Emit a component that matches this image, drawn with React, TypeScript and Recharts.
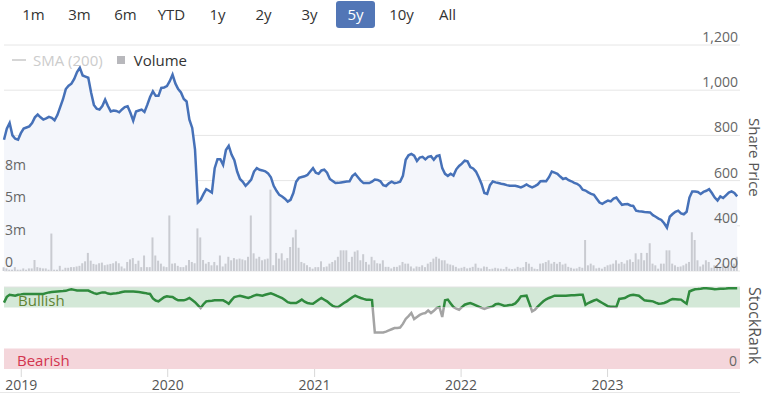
import React from "react";
import {
  ComposedChart,
  LineChart,
  Area,
  Bar,
  Line,
  XAxis,
  YAxis,
  CartesianGrid,
  ReferenceArea,
  ReferenceLine,
} from "recharts";

const FONT = "'Open Sans', 'Noto Sans', sans-serif";
const WEEK = 7 * 24 * 3600 * 1000;
const START = Date.UTC(2018, 10, 19); // first weekly point

const rangeButtons = ["1m", "3m", "6m", "YTD", "1y", "2y", "3y", "5y", "10y", "All"];
const activeRange = "5y";
const yearTicks = [2019, 2020, 2021, 2022, 2023];
const priceTicks = [200, 400, 600, 800, 1000, 1200];
const volumeTicks = [0, 2.5, 5, 7.5]; // millions
const volumeTickLabels = ["0", "3m", "5m", "8m"];

// weekly close, pence
const sharePrice = [
  781, 830, 855, 800, 785, 781, 810, 830, 835, 840,
  855, 880, 892, 880, 870, 875, 882, 878, 867, 890,
  925, 960, 1005, 1020, 1029, 1050, 1080, 1099, 1065, 1060,
  1055, 990, 935, 918, 914, 930, 958, 930, 906, 910,
  908, 902, 915, 925, 929, 900, 865, 906, 910, 914,
  904, 935, 970, 995, 975, 975, 1010, 1012, 1018, 1040,
  1069, 1030, 1005, 990, 961, 950, 870, 833, 737, 503,
  515, 540, 562, 555, 547, 655, 695, 695, 670, 735,
  754, 715, 690, 640, 607, 595, 577, 590, 604, 640,
  655, 648, 645, 641, 632, 615, 577, 555, 537, 530,
  520, 507, 515, 545, 595, 612, 616, 619, 625, 640,
  655, 635, 630, 645, 648, 635, 607, 598, 589, 590,
  592, 594, 596, 597, 620, 630, 615, 600, 589, 589,
  589, 595, 605, 603, 597, 580, 576, 588, 595, 589,
  591, 595, 621, 692, 712, 718, 710, 687, 702, 705,
  694, 705, 708, 692, 708, 712, 655, 630, 621, 630,
  622, 650, 665, 675, 688, 685, 660, 654, 640, 615,
  585, 545, 541, 580, 596, 592, 589, 586, 584, 580,
  577, 577, 577, 574, 570, 576, 583, 575, 570, 576,
  583, 597, 598, 597, 615, 640, 635, 630, 618, 607,
  611, 602, 597, 590, 586, 577, 560, 556, 548, 541,
  537, 520, 503, 497, 505, 512, 508, 520, 525, 508,
  493, 495, 496, 490, 488, 467, 464, 463, 461, 460,
  459, 447, 440, 432, 426, 411, 392, 440, 452, 462,
  467, 455, 451, 462, 525, 552, 552, 550, 541, 550,
  555, 562, 545, 525, 512, 530, 523, 535, 547, 552, 545, 530,
];

// weekly volume, millions of shares
const volumeM = [
  0.3, 0.2, 0.1, 0.1, 0.3, 0.1, 0.1, 0.2, 0.1, 0.2,
  0.2, 0.85, 0.3, 0.25, 0.2, 0.2, 0.1, 2.9, 0.1, 0.1,
  0.4, 0.1, 0.25, 0.25, 0.3, 0.3, 0.35, 0.4, 0.6, 0.75,
  1.4, 0.8, 0.55, 0.5, 0.6, 0.65, 0.45, 0.5, 0.55, 0.6,
  0.75, 0.6, 0.35, 0.2, 0.7, 0.9, 1.0, 0.55, 0.8, 0.3,
  1.2, 0.3, 0.3, 2.6, 1.2, 0.8, 0.57, 0.35, 0.3, 4.3,
  0.57, 0.6, 0.4, 0.3, 0.3, 0.44, 0.85, 0.7, 0.6, 3.3,
  2.6, 0.85, 0.57, 0.7, 0.44, 0.7, 0.44, 1.2, 0.35, 0.57,
  1.1, 0.83, 1.0, 0.9, 0.96, 0.9, 0.83, 1.1, 4.3, 1.37,
  0.96, 1.1, 0.83, 0.9, 0.96, 6.3, 0.45, 1.4, 0.96, 1.37,
  0.83, 1.0, 1.86, 2.6, 3.2, 1.8, 0.7, 0.6, 0.45, 0.3,
  0.18, 0.3, 0.3, 0.75, 0.3, 0.35, 0.57, 0.7, 0.83, 1.1,
  1.6, 1.6, 1.6, 0.7, 1.1, 1.5, 1.6, 0.83, 1.3, 0.7,
  0.5, 1.1, 0.83, 0.6, 0.57, 0.83, 0.32, 0.32, 0.2, 0.32,
  0.32, 0.44, 0.7, 0.57, 0.57, 0.35, 0.2, 0.35, 0.32, 0.44,
  0.3, 0.57, 0.7, 0.96, 1.1, 0.96, 0.83, 0.83, 0.57, 0.5,
  0.44, 0.32, 0.2, 0.25, 0.32, 0.2, 0.25, 0.32, 0.57, 0.25,
  0.2, 0.35, 0.32, 0.15, 0.18, 0.25, 0.2, 0.18, 0.15, 0.32,
  0.18, 0.15, 0.18, 0.32, 0.25, 0.3, 0.7, 0.57, 0.32, 0.18,
  0.15, 0.57, 0.6, 0.7, 0.83, 0.57, 0.7, 0.57, 0.7, 0.5,
  0.57, 0.32, 0.25, 0.18, 0.2, 0.32, 0.25, 2.4, 0.44, 0.57,
  0.44, 0.2, 0.25, 0.18, 0.32, 0.44, 0.5, 0.57, 0.83, 0.57,
  0.7, 0.57, 0.83, 0.9, 0.7, 1.37, 0.9, 1.4, 0.83, 1.4,
  2.15, 0.57, 0.44, 0.18, 0.57, 0.57, 1.6, 1.6, 0.57, 0.44,
  0.32, 0.35, 0.44, 0.57, 0.7, 3.0, 2.4, 0.83, 0.35, 0.5,
  0.83, 0.7, 0.25, 0.44, 0.44, 0.32, 0.57, 0.32, 0.44, 0.35, 0.57, 1.1,
];

// weekly StockRank (0-100)
const stockRank = [
  81, 88, 90.6, 90, 89.4, 90.6, 91, 91.5, 91.5, 91.5,
  91.5, 91.5, 91.5, 91.5, 91.5, 92.5, 93.4, 93.8, 94.2, 94.5,
  94.8, 95, 95.3, 96.5, 97.3, 96.5, 95.7, 95.7, 95.7, 95.7,
  95.7, 94, 92.5, 91.5, 92.5, 93.4, 93.4, 92, 91.5, 92,
  92.3, 93, 93.8, 94.5, 94.5, 94.5, 94.5, 94.2, 93.8, 93.4,
  92.8, 92, 91.5, 86, 83.5, 82.5, 85, 87.5, 88.6, 88.2,
  87.8, 85.5, 83.7, 83.7, 83.7, 85, 86.6, 84, 81.5, 78,
  74.4, 79, 82.5, 83, 83.3, 83.7, 83.7, 83.7, 83.7, 82,
  79.6, 84, 87.8, 88.6, 89.4, 88.5, 87.5, 86.6, 88, 89.5,
  90.6, 90, 89.4, 90.5, 91.5, 92.3, 91, 89.4, 88, 86.6,
  84, 81.5, 80.5, 80.5, 80.5, 82.5, 84.6, 82, 80.5, 80,
  79.6, 82, 84.5, 86.6, 84.5, 82.5, 79.5, 77, 75.6, 75.6,
  78, 80.5, 82.5, 85, 87.5, 89.4, 88, 86.6, 85.5, 84.6,
  84.6, 84, 44.6, 44.6, 44.6, 44.6, 45.5, 47, 48.5, 50,
  50, 50.5, 55, 61, 64.5, 68.3, 61, 63.5, 66, 67.5,
  68.3, 71.5, 68.3, 71, 74.4, 75.6, 63.4, 83.7, 84.6, 80,
  75.6, 73.5, 72.3, 75.5, 78.4, 79.5, 80.5, 79, 77.5, 76,
  74.5, 73.2, 74.5, 75.5, 76.4, 79, 79.6, 78.5, 77.2, 77.5,
  78, 78.4, 80, 83.7, 88.6, 89, 89.4, 80, 70.3, 72.3,
  76, 79.5, 82.5, 85, 86.6, 88, 89.4, 89.4, 89.4, 89.4,
  89.4, 89.6, 89.8, 90, 90.2, 90.4, 90.6, 78.4, 80.5, 82,
  83.5, 84.6, 82.5, 80.5, 78.5, 76.4, 76, 75.8, 75.6, 85.4,
  86, 86.6, 88.5, 90, 90.6, 90, 89.4, 86.5, 83.7, 83.3,
  82.9, 82.5, 81, 79.6, 80, 80.5, 82, 84, 85.4, 85.2,
  84.9, 84.6, 82, 79.6, 94.5, 96, 97.3, 97.6, 98, 98.5,
  98.5, 98.2, 97.8, 97.3, 97.5, 97.8, 98, 98.2, 98.5, 98.5, 98.5, 98.5,
];

const BULLISH_MIN = 76;

const data = sharePrice.map((price, i) => ({
  t: START + i * WEEK,
  price,
  volume: volumeM[i],
  rank: stockRank[i],
}));
const END = START + sharePrice.length * WEEK;
const yearTickTimes = yearTicks.map((y) => Date.UTC(y, 0, 1));

const rankMax = Math.max(...stockRank);
const rankMin = Math.min(...stockRank);
const greenStop = (rankMax - BULLISH_MIN) / (rankMax - rankMin);

const PriceTick = ({ x, y, payload }: any) => (
  <text x={x - 2} y={y - 3} textAnchor="end" fill="#666" fontSize={14} fontFamily={FONT}>
    {Number(payload.value).toLocaleString("en-US")}
  </text>
);

const VolumeTick = ({ x, y, payload }: any) => (
  <text x={x + 1} y={y - 4} textAnchor="start" fill="#666" fontSize={14} fontFamily={FONT}>
    {volumeTickLabels[volumeTicks.indexOf(payload.value)]}
  </text>
);

const RankTick = ({ x, y, payload }: any) => (
  <text x={x - 3} y={y - 3} textAnchor="end" fill="#666" fontSize={14} fontFamily={FONT}>
    {payload.value}
  </text>
);

export default function App() {
  return (
    <div
      style={{
        position: "relative",
        width: 767,
        height: 394,
        background: "#fff",
        overflow: "hidden",
        fontFamily: FONT,
      }}
    >
      <style>{`body{margin:0}`}</style>

      {/* range selector */}
      <div style={{ position: "absolute", left: 14, top: 1, display: "flex", gap: 7 }}>
        {rangeButtons.map((b) => (
          <div
            key={b}
            style={{
              width: 39,
              height: 27,
              lineHeight: "27px",
              textAlign: "center",
              fontSize: 15,
              borderRadius: 3,
              color: b === activeRange ? "#fff" : "#333",
              background: b === activeRange ? "#5276b6" : "transparent",
            }}
          >
            {b}
          </div>
        ))}
      </div>

      {/* price + volume */}
      <div style={{ position: "absolute", left: 0, top: 0 }}>
        <ComposedChart
          width={767}
          height={272}
          data={data}
          margin={{ top: 45, right: 27, bottom: 1, left: 4 }}
        >
          <CartesianGrid yAxisId="price" vertical={false} stroke="#e6e6e6" />
          <XAxis dataKey="t" type="number" domain={[START, END]} hide />
          <YAxis
            yAxisId="price"
            orientation="right"
            mirror
            width={40}
            domain={[200, 1200]}
            ticks={priceTicks}
            interval={0}
            allowDataOverflow
            axisLine={false}
            tickLine={false}
            tickSize={0}
            tickMargin={0}
            tick={PriceTick}
          />
          <YAxis
            yAxisId="vol"
            orientation="left"
            mirror
            width={30}
            domain={[0, 17.5]}
            ticks={volumeTicks}
            interval={0}
            axisLine={false}
            tickLine={false}
            tickSize={0}
            tickMargin={0}
            tick={VolumeTick}
          />
          <Area
            yAxisId="price"
            dataKey="price"
            type="linear"
            stroke="#4671b8"
            strokeWidth={2.5}
            fill="#f4f6fb"
            fillOpacity={1}
            dot={false}
            isAnimationActive={false}
          />
          <Bar
            yAxisId="vol"
            dataKey="volume"
            fill="#c9cbd1"
            barSize={2}
            isAnimationActive={false}
          />
        </ComposedChart>
      </div>

      {/* legend */}
      <div
        style={{
          position: "absolute",
          left: 12,
          top: 50,
          display: "flex",
          alignItems: "center",
          fontSize: 15,
        }}
      >
        <span style={{ width: 14, height: 2, background: "#d6d6d6", marginRight: 7 }} />
        <span style={{ color: "#cccccc" }}>SMA (200)</span>
        <span style={{ width: 8, height: 8, background: "#b8b8bc", marginLeft: 14, marginRight: 9 }} />
        <span style={{ color: "#333" }}>Volume</span>
      </div>

      <div
        style={{
          position: "absolute",
          left: 746,
          top: 118,
          writingMode: "vertical-rl",
          fontSize: 15,
          color: "#555",
          lineHeight: "18px",
        }}
      >
        Share Price
      </div>

      {/* StockRank panel */}
      <div style={{ position: "absolute", left: 0, top: 272 }}>
        <LineChart
          width={767}
          height={122}
          data={data}
          margin={{ top: 15, right: 27, bottom: 0, left: 4 }}
        >
          <defs>
            <linearGradient id="rankGrad" x1="0" y1="0" x2="0" y2="1">
              <stop offset={greenStop} stopColor="#2f8a3d" />
              <stop offset={greenStop} stopColor="#a4a4a4" />
            </linearGradient>
          </defs>
          <XAxis
            dataKey="t"
            type="number"
            domain={[START, END]}
            ticks={yearTickTimes}
            interval={0}
            tickFormatter={(v: number) => String(new Date(v).getUTCFullYear())}
            axisLine={false}
            tickLine={{ stroke: "#d8d8d8" }}
            tickSize={8}
            tickMargin={3}
            height={25}
            tick={{ fill: "#555", fontSize: 14, fontFamily: FONT }}
          />
          <YAxis
            orientation="right"
            mirror
            width={30}
            domain={[0, 100]}
            ticks={[0]}
            interval={0}
            axisLine={false}
            tickLine={false}
            tickSize={0}
            tickMargin={0}
            tick={RankTick}
          />
          <ReferenceLine y={100} stroke="#e2e2e2" />
          <ReferenceArea
            y1={BULLISH_MIN - 1}
            y2={100}
            fill="#d3e8d7"
            fillOpacity={1}
            stroke="none"
            label={{ value: "Bullish", position: "insideLeft", offset: 14, fill: "#5f8433", fontSize: 15, fontFamily: FONT, dy: 3 }}
          />
          <ReferenceArea
            y1={0}
            y2={25}
            fill="#f4d6db"
            fillOpacity={1}
            stroke="none"
            label={{ value: "Bearish", position: "insideLeft", offset: 13, fill: "#d3344e", fontSize: 15, fontFamily: FONT, dy: 2 }}
          />
          <Line
            dataKey="rank"
            type="linear"
            stroke="url(#rankGrad)"
            strokeWidth={2.5}
            dot={false}
            isAnimationActive={false}
          />
        </LineChart>
      </div>

      <div
        style={{
          position: "absolute",
          left: 746,
          top: 287,
          writingMode: "vertical-rl",
          fontSize: 16,
          color: "#555",
          lineHeight: "18px",
        }}
      >
        StockRank
      </div>
      <div style={{ position: "absolute", left: 0, top: 392, width: 740, height: 1, background: "#e8e8e8" }} />
    </div>
  );
}
